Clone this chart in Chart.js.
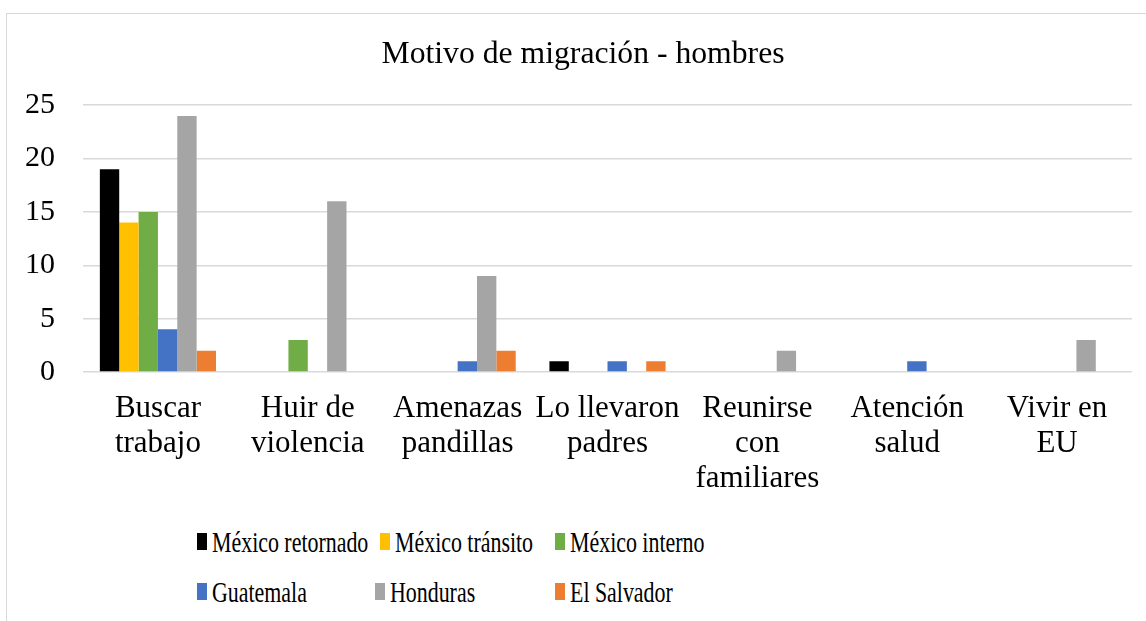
<!DOCTYPE html>
<html>
<head>
<meta charset="utf-8">
<script src="https://cdn.jsdelivr.net/npm/chart.js@4"></script>
<style>
  html, body { margin: 0; padding: 0; background: #fff; overflow: hidden; }
  body { width: 1146px; height: 621px; position: relative; font-family: "Liberation Serif", "Times New Roman", serif; }
  #frame { position: absolute; left: 6px; top: 13px; width: 1200px; height: 700px;
           border-left: 1.5px solid #d9d9d9; border-top: 1.5px solid #d9d9d9; }
  #wrap { position: absolute; left: 0; top: 0; width: 1168px; height: 520px; }
  .item { position: absolute; height: 30px; }
  .box { position: absolute; width: 10px; height: 17px; }
  .txt { position: absolute; white-space: nowrap; font: 30px/30px "Liberation Serif", "Times New Roman", serif;
         color: #000; transform: scaleX(0.73); transform-origin: left top; }
</style>
</head>
<body>
<div id="frame"></div>
<div id="wrap"><canvas id="grafico"></canvas></div>
<div id="legend"></div>
<script>
// categorías y valores
const categorias = [
  ['Buscar', 'trabajo'],
  ['Huir de', 'violencia'],
  ['Amenazas', 'pandillas'],
  ['Lo llevaron', 'padres'],
  ['Reunirse', 'con', 'familiares'],
  ['Atención', 'salud'],
  ['Vivir en', 'EU']
];
const series = ['México retornado', 'México tránsito', 'México interno', 'Guatemala', 'Honduras', 'El Salvador'];
const colores = ['#000000', '#ffc000', '#70ad47', '#4472c4', '#a5a5a5', '#ed7d31'];

const mexicoRetornado = [19, 0, 0, 1, 0, 0, 0];
const mexicoTransito  = [14, 0, 0, 0, 0, 0, 0];
const mexicoInterno   = [15, 3, 0, 0, 0, 0, 0];
const guatemala       = [4, 0, 1, 1, 0, 1, 0];
const honduras        = [24, 16, 9, 0, 2, 0, 3];
const elSalvador      = [2, 0, 2, 1, 0, 0, 0];
const valores = [mexicoRetornado, mexicoTransito, mexicoInterno, guatemala, honduras, elSalvador];

const ticksY = [0, 5, 10, 15, 20, 25];

const fuente = '"Liberation Serif", "Times New Roman", serif';

// leyenda (posiciones como en el original)
const posLeyenda = [
  [197, 527], [380, 527], [555, 527],
  [197, 577], [375, 577], [555, 577]
];
const leyenda = document.getElementById('legend');
series.forEach((s, i) => {
  const it = document.createElement('div');
  it.className = 'item';
  it.style.left = posLeyenda[i][0] + 'px';
  it.style.top = posLeyenda[i][1] + 'px';
  const b = document.createElement('div');
  b.className = 'box';
  b.style.background = colores[i];
  b.style.left = '0px';
  b.style.top = '6px';
  const t = document.createElement('span');
  t.className = 'txt';
  t.style.left = '15px';
  t.style.top = '0px';
  t.textContent = s;
  it.appendChild(b);
  it.appendChild(t);
  leyenda.appendChild(it);
});

// el título va centrado sobre todo el marco, no sólo sobre el área útil
const centrarTitulo = {
  id: 'centrarTitulo',
  afterLayout(chart) {
    if (chart.titleBlock) chart.titleBlock.left = 34;
  }
};

function dibujar() {
  const ctx = document.getElementById('grafico').getContext('2d');
  new Chart(ctx, {
    type: 'bar',
    data: {
      labels: categorias,
      datasets: series.map((s, i) => ({
        label: s,
        data: valores[i],
        backgroundColor: colores[i],
        borderWidth: 0,
        categoryPercentage: 0.775,
        barPercentage: 1
      }))
    },
    options: {
      responsive: true,
      maintainAspectRatio: false,
      animation: false,
      layout: { padding: { left: 0, right: 36, top: 0, bottom: 0 } },
      plugins: {
        legend: { display: false },
        tooltip: { enabled: false },
        title: {
          display: true,
          text: 'Motivo de migración - hombres',
          color: '#000',
          font: { family: fuente, size: 31.7, weight: 'normal', lineHeight: 1.2 },
          padding: { top: 35.6, bottom: 31.6 }
        }
      },
      scales: {
        x: {
          grid: { display: false, drawTicks: false },
          border: { display: false },
          ticks: {
            color: '#000',
            padding: 19,
            maxRotation: 0,
            autoSkip: false,
            font: { family: fuente, size: 31, lineHeight: 1.13 }
          },
          afterFit: s => { s.height = 148; }
        },
        y: {
          min: 0,
          max: 25,
          afterBuildTicks: s => { s.ticks = ticksY.map(v => ({ value: v })); },
          grid: { color: '#d9d9d9', lineWidth: 1.5, drawTicks: false },
          border: { display: false },
          ticks: {
            color: '#000',
            padding: 28,
            font: { family: fuente, size: 30 }
          },
          afterFit: s => { s.width = 83; }
        }
      }
    },
    plugins: [centrarTitulo]
  });
}

document.fonts.load('30px "Liberation Serif"').then(dibujar, dibujar);
</script>
</body>
</html>
